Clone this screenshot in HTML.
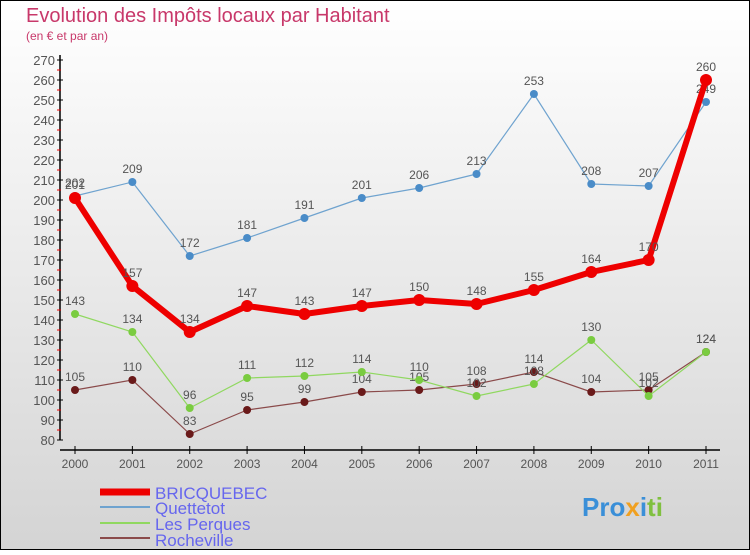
<!DOCTYPE html>
<html><head><meta charset="utf-8"><style>
body{margin:0}
svg text{font-family:"Liberation Sans","DejaVu Sans",sans-serif}
</style></head><body>
<svg id="c" width="750" height="550" xmlns="http://www.w3.org/2000/svg">
<defs><linearGradient id="bg" x1="0" y1="0" x2="0" y2="1"><stop offset="0" stop-color="#ffffff"/><stop offset="1" stop-color="#d4d4d4"/></linearGradient></defs>
<rect x="0.5" y="0.5" width="749" height="549" fill="url(#bg)" stroke="#000"/>
<text x="26" y="22" font-size="20" fill="#c8386a">Evolution des Impôts locaux par Habitant</text>
<text x="26" y="40" font-size="12" fill="#c8386a">(en € et par an)</text>
<g id="axes"></g><g id="series"></g>
<g>
<line x1="100" y1="492" x2="150" y2="492" stroke="#e00" stroke-width="7"/>
<text x="155" y="499" font-size="17" fill="#6666ee">BRICQUEBEC</text>
<line x1="100" y1="507" x2="150" y2="507" stroke="#6fa3cf" stroke-width="2"/>
<text x="155" y="514" font-size="17" fill="#6666ee">Quettetot</text>
<line x1="100" y1="523" x2="150" y2="523" stroke="#90d860" stroke-width="2"/>
<text x="155" y="530" font-size="17" fill="#6666ee">Les Perques</text>
<line x1="100" y1="538" x2="150" y2="538" stroke="#8a4a4a" stroke-width="2"/>
<text x="155" y="546" font-size="17" fill="#6666ee">Rocheville</text>
</g>
<text x="582" y="516" font-size="26" font-weight="bold" fill="#3a8fd8">Pro<tspan fill="#f0a020">x</tspan><tspan fill="#3a8fd8">i</tspan><tspan fill="#80c040">ti</tspan></text>
</svg>
<script>
const years=[2000,2001,2002,2003,2004,2005,2006,2007,2008,2009,2010,2011];
const bricquebec=[201,157,134,147,143,147,150,148,155,164,170,260];
const quettetot=[202,209,172,181,191,201,206,213,253,208,207,249];
const perques=[143,134,96,111,112,114,110,102,108,130,102,124];
const rocheville=[105,110,83,95,99,104,105,108,114,104,105,124];
const yTicks=[80,90,100,110,120,130,140,150,160,170,180,190,200,210,220,230,240,250,260,270];
const NS='http://www.w3.org/2000/svg';
const X=i=>75+i*(706-75)/(years.length-1);
const Y=v=>440-(v-80)*2;
function mk(t,a,p){const e=document.createElementNS(NS,t);for(const k in a)e.setAttribute(k,a[k]);p.appendChild(e);return e;}
const ax=document.getElementById('axes');
const ya=mk('line',{x1:60,y1:55,x2:60,y2:440,stroke:'#000','stroke-width':1.5},ax);


const xa=mk('line',{x1:60,y1:450,x2:720,y2:450,stroke:'#000','stroke-width':1.5},ax);


yTicks.forEach(v=>{
 mk('line',{x1:57,y1:Y(v),x2:63,y2:Y(v),stroke:'#000'},ax);
 if(v<270)mk('line',{x1:57,y1:Y(v+5),x2:61,y2:Y(v+5),stroke:'#e00'},ax);
 const t=mk('text',{x:55,y:Y(v)+5,'font-size':13,fill:'#555','text-anchor':'end'},ax);t.textContent=v;
 
 
});
years.forEach((yr,i)=>{
 mk('line',{x1:X(i),y1:446,x2:X(i),y2:454,stroke:'#000'},ax);
 const t=mk('text',{x:X(i),y:468,'font-size':12,fill:'#555','text-anchor':'middle'},ax);t.textContent=yr;
 
 
});
const sg=document.getElementById('series');
function draw(name,vals,col,dot,w,r){
 const g=mk('g',{},sg);
 
 
 mk('polyline',{points:vals.map((v,i)=>X(i)+','+Y(v)).join(' '),fill:'none',stroke:col,'stroke-width':w,'stroke-linejoin':'round'},g);
 vals.forEach((v,i)=>{
  const c=mk('circle',{cx:X(i),cy:Y(v),r:r,fill:dot},g);
  
  
  const t=mk('text',{x:X(i),y:Y(v)-9,'font-size':12,fill:'#555','text-anchor':'middle'},g);t.textContent=v;
  
  
 });
}
draw('series-rocheville',rocheville,'#8a4a4a','#6a1a1a',1.2,4);
draw('series-les-perques',perques,'#90d860','#7acc40',1.2,4);
draw('series-quettetot',quettetot,'#6fa3cf','#4a8cc8',1.2,4);
draw('series-bricquebec',bricquebec,'#e00','#e00',6,6);
</script>
</body></html>
